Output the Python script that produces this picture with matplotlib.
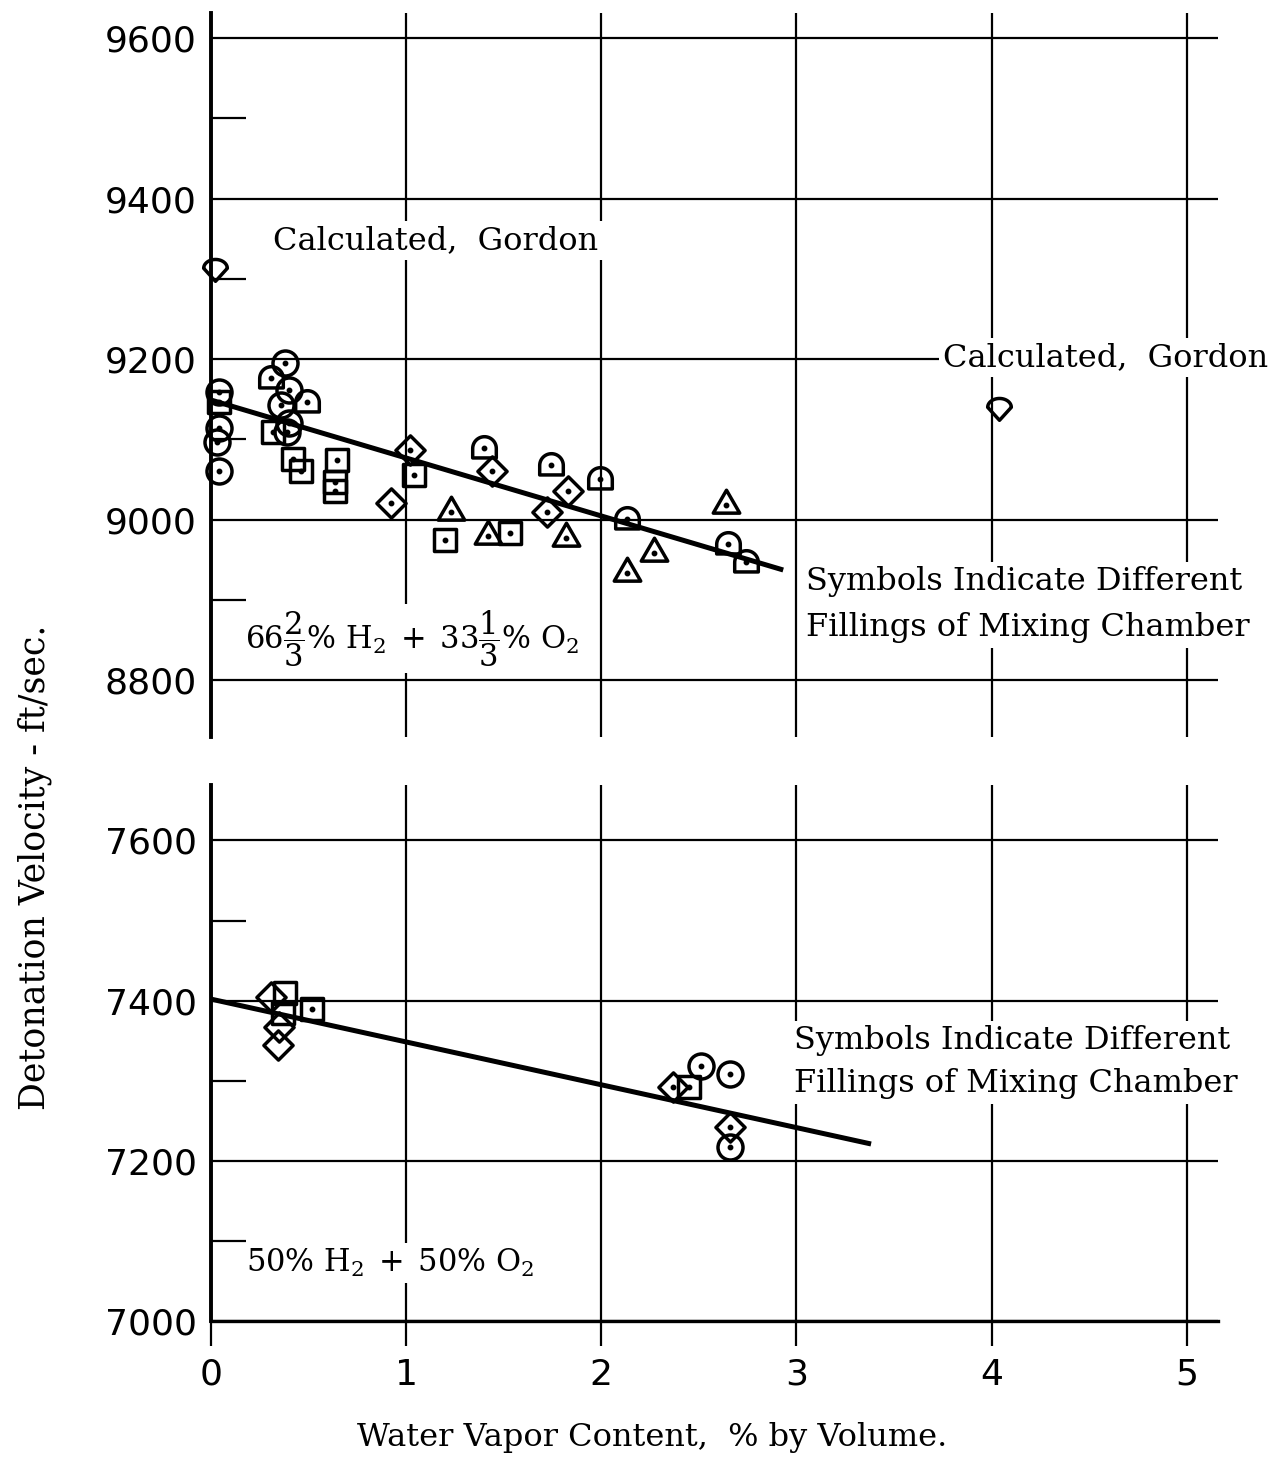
import numpy as np
import matplotlib
matplotlib.use('Agg')
import matplotlib.pyplot as plt
from matplotlib.path import Path
from matplotlib.ticker import MultipleLocator

# --- 66 2/3 % H2 + 33 1/3 % O2 (upper panel) ---
top_circle_x = [0.04, 0.04, 0.03, 0.04, 0.38, 0.40, 0.36, 0.40, 0.39]
top_circle_y = [9159, 9114, 9097, 9060, 9195, 9161, 9143, 9120, 9109]
top_square_x = [0.04, 0.32, 0.42, 0.46, 0.645, 0.635, 0.635, 1.04, 1.20, 1.53]
top_square_y = [9147, 9109, 9076, 9060, 9074, 9047, 9035, 9055, 8975, 8983]
top_arch_x = [0.31, 0.49, 1.40, 1.74, 1.995, 2.13, 2.65, 2.74]
top_arch_y = [9176, 9147, 9089, 9068, 9051, 9001, 8970, 8947]
top_diamond_x = [0.92, 1.02, 1.44, 1.72, 1.83]
top_diamond_y = [9020, 9087, 9060, 9010, 9035]
top_triangle_x = [1.23, 1.42, 1.82, 2.13, 2.27, 2.64]
top_triangle_y = [9010, 8980, 8977, 8933, 8958, 9018]
calc_x = [0.02, 4.04]
calc_y = [9312, 9139]
top_fit_x = [0.0, 2.92]
top_fit_y = [9149, 8938]

# --- 50 % H2 + 50 % O2 (lower panel) ---
bot_diamond_x = [0.31, 0.35, 0.345]
bot_diamond_y = [7405, 7367, 7345]
bot_dot_diamond_x = [2.37, 2.66]
bot_dot_diamond_y = [7292, 7242]
bot_square_x = [0.38, 0.37]
bot_square_y = [7410, 7385]
bot_dot_square_x = [0.52, 2.45]
bot_dot_square_y = [7390, 7292]
bot_circle_x = [2.51, 2.66, 2.66]
bot_circle_y = [7318, 7308, 7217]
bot_fit_x = [0.0, 3.37]
bot_fit_y = [7402, 7222]

x_ticks = [0, 1, 2, 3, 4, 5]
x_ticklabels = ['0', '1', '2', '3', '4', '5']

plt.rcParams['font.family'] = 'DejaVu Serif'
plt.rcParams['mathtext.fontset'] = 'dejavuserif'


def closed(verts):
    verts = np.asarray(verts, float)
    return Path(np.vstack([verts, verts[:1]]), closed=True)


t = np.linspace(0, np.pi, 30)
arch = closed(np.vstack([[[1, -0.8]], np.column_stack([np.cos(t), np.sin(t)]), [[-1, -0.8]]]))
drop = closed(np.vstack([np.column_stack([np.cos(t), 0.75 * np.sin(t) + 0.1]), [[0, -1.0]]]))
square = closed([[-1, -1], [1, -1], [1, 1], [-1, 1]])
diamond = closed([[0, 1], [1, 0], [0, -1], [-1, 0]])
triangle = closed([[0, 1.153], [1, -0.577], [-1, -0.577]])


def draw(ax, xs, ys, marker, ms, dotted=True):
    ax.plot(xs, ys, ls='none', marker=marker, ms=ms, mfc='none', mec='black',
            mew=2.5, zorder=3, clip_on=False)
    if dotted:
        ax.plot(xs, ys, ls='none', marker='o', ms=3.2, color='black', zorder=4)


fig = plt.figure(figsize=(12.74, 14.61), dpi=100)
ax1 = fig.add_axes([0.1656, 0.4956, 0.7904, 0.4958])
ax2 = fig.add_axes([0.1656, 0.0955, 0.7904, 0.3672])

for ax in (ax1, ax2):
    ax.set_xlim(0, 5.16)
    ax.set_xticks(x_ticks)
    ax.yaxis.set_major_locator(MultipleLocator(200))
    ax.yaxis.set_minor_locator(MultipleLocator(100))
    ax.grid(True, which='major', color='black', lw=1.6)
    ax.set_axisbelow(True)
    for side in ('top', 'right', 'bottom'):
        ax.spines[side].set_visible(False)
    ax.spines['left'].set_linewidth(2.8)
    ax.tick_params(axis='y', which='major', length=0, pad=10, labelsize=26)
    ax.tick_params(axis='y', which='minor', direction='in', length=25, width=1.6)
    for lab in ax.get_yticklabels():
        lab.set_family('DejaVu Sans')

ax1.set_ylim(8729, 9632)
ax2.set_ylim(7000, 7669)
ax1.tick_params(axis='x', length=0, labelbottom=False)
ax2.spines['bottom'].set_visible(True)
ax2.spines['bottom'].set_linewidth(2.4)
ax2.set_xticklabels(x_ticklabels, family='DejaVu Sans')
ax2.tick_params(axis='x', direction='out', length=18, width=1.6, pad=8, labelsize=26)

# upper panel
ax1.plot(top_fit_x, top_fit_y, color='black', lw=3.6, zorder=2)
draw(ax1, top_circle_x, top_circle_y, 'o', 18)
draw(ax1, top_square_x, top_square_y, square, 16)
draw(ax1, top_arch_x, top_arch_y, arch, 17)
draw(ax1, top_diamond_x, top_diamond_y, diamond, 21)
draw(ax1, top_triangle_x, top_triangle_y, triangle, 22)
draw(ax1, calc_x, calc_y, drop, 17, dotted=False)

box = dict(facecolor='white', edgecolor='none', pad=3)
ax1.text(0.32, 9348, 'Calculated,  Gordon', fontsize=23, ha='left', va='center', bbox=box)
ax1.text(3.75, 9202, 'Calculated,  Gordon', fontsize=23, ha='left', va='center', bbox=box)
ax1.text(3.05, 8894, 'Symbols Indicate Different\nFillings of Mixing Chamber',
         fontsize=23, ha='left', va='center', linespacing=1.65, bbox=box)
ax1.text(1.03, 8852, r'$66\dfrac{2}{3}\%\ \mathrm{H}_2\;+\;33\dfrac{1}{3}\%\ \mathrm{O}_2$',
         fontsize=22, ha='center', va='center', bbox=box)

# lower panel
ax2.plot(bot_fit_x, bot_fit_y, color='black', lw=3.6, zorder=2)
draw(ax2, bot_diamond_x, bot_diamond_y, diamond, 21, dotted=False)
draw(ax2, bot_dot_diamond_x, bot_dot_diamond_y, diamond, 21)
draw(ax2, bot_square_x, bot_square_y, square, 16, dotted=False)
draw(ax2, bot_dot_square_x, bot_dot_square_y, square, 16)
draw(ax2, bot_circle_x, bot_circle_y, 'o', 18)
ax2.text(2.99, 7323, 'Symbols Indicate Different\nFillings of Mixing Chamber',
         fontsize=23, ha='left', va='center', linespacing=1.5, bbox=box)
ax2.text(0.92, 7073, r'$50\%\ \mathrm{H}_2\;+\;50\%\ \mathrm{O}_2$',
         fontsize=22, ha='center', va='center', bbox=box)

fig.text(0.027, 0.4066, 'Detonation Velocity - ft/sec.', rotation=90,
         fontsize=25, ha='center', va='center')
fig.text(0.512, 0.0164, 'Water Vapor Content,  % by Volume.', fontsize=23,
         ha='center', va='center')

fig.savefig('out.png', dpi=100, facecolor='white')
